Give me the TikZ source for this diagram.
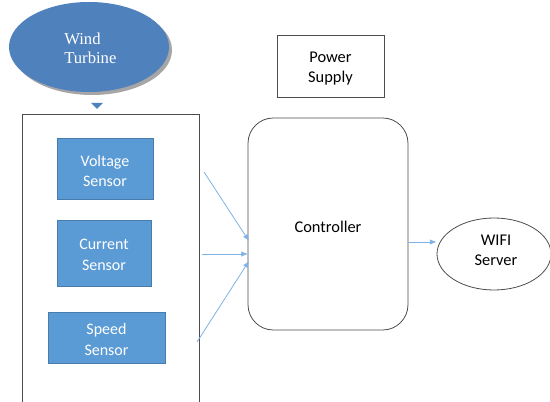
\documentclass[tikz,border=0pt]{standalone}
\usepackage{fontspec}
\setmainfont{Carlito}
\newfontfamily\serifx{Liberation Serif}
\usetikzlibrary{shapes.geometric,arrows.meta}
\definecolor{sens}{HTML}{5B9BD5}
\definecolor{turb}{HTML}{4F81BD}
\definecolor{arr}{HTML}{7FB2E5}
\tikzset{
  sensor/.style={draw=sens!80!black, line width=0.4pt, fill=sens, inner sep=0pt},
  sensortext/.style={text=white, align=center, font=\fontsize{12}{15.5}\selectfont, inner sep=0pt},
  plainbox/.style={draw=black!70, line width=0.6pt, inner sep=0pt},
  plaintext/.style={align=center, font=\fontsize{12.3}{15}\selectfont, inner sep=0pt},
  link/.style={draw=arr, line width=0.6pt, -{Latex[length=5pt,width=4pt]}}
}
\begin{document}
\begin{tikzpicture}[x=0.75pt,y=-0.75pt]
\useasboundingbox (0,0) rectangle (550,402);
% wind turbine with shadow
\fill[black!35] (92,50) ellipse [x radius=80, y radius=45];
\node[ellipse, fill=turb, minimum width=160*0.75pt, minimum height=90*0.75pt, inner sep=0pt] (wt) at (89,47) {};
\node[text=white, align=left, inner sep=0pt, font=\serifx\fontsize{12.5}{14.5}\selectfont, anchor=west] (wtl) at (64,48) {Wind\\Turbine};
% big box
\draw[black!70, line width=0.6pt] (22,402) -- (22,114) -- (199,114) -- (199,402);
\fill[turb] (91,103) -- (103,103) -- (97,109) -- cycle;
% sensors
\node[sensor, minimum width=96*0.75pt, minimum height=61*0.75pt] (vs) at (105,168.5) {};
\node[sensortext] (vsl) at (105,171) {Voltage\\Sensor};
\node[sensor, minimum width=94*0.75pt, minimum height=66*0.75pt] (cs) at (104,253) {};
\node[sensortext] (csl) at (104,255) {Current\\Sensor};
\node[sensor, minimum width=117*0.75pt, minimum height=51*0.75pt] (ss) at (106.5,337.5) {};
\node[sensortext] (ssl) at (106.5,339.5) {Speed\\Sensor};
% controller
\node[plainbox, rounded corners=19pt, minimum width=160*0.75pt, minimum height=212*0.75pt] (ctrl) at (328,224) {};
\node[plaintext] (ctrll) at (328,227) {Controller};
% power supply
\node[plainbox, minimum width=107*0.75pt, minimum height=62*0.75pt] (ps) at (330.5,66) {};
\node[plaintext] (psl) at (330.5,69) {Power\\Supply};
% wifi
\node[ellipse, plainbox, minimum width=114*0.75pt, minimum height=72*0.75pt] (wifi) at (494,254) {};
\node[plaintext] (wifil) at (496,250) {WIFI\\Server};
% arrows
\coordinate (a1) at (204,172);
\coordinate (a2) at (202,254);
\coordinate (a3) at (197,342);
\coordinate (b1) at (249,241);
\coordinate (b2) at (248,254);
\coordinate (b3) at (249,261);
\draw[link] (a1) -- (b1);
\draw[link] (a2) -- (b2);
\draw[link] (a3) -- (b3);
\draw[link] (ctrl.east |- 0,242) -- (wifi.west |- 0,242);
\end{tikzpicture}
\end{document}
